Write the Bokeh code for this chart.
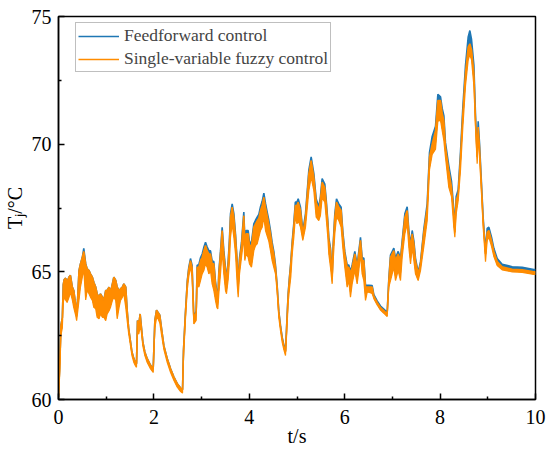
from bokeh.plotting import figure
from bokeh.models import Range1d, FixedTicker, Legend, LegendItem, ColumnDataSource
from bokeh.embed import file_html
from bokeh.resources import INLINE

# time (s)
t = [0.00, 0.03, 0.05, 0.08, 0.10, 0.12, 0.15, 0.18, 0.22, 0.25, 0.29, 0.32, 0.36, 0.38, 0.40,
     0.43, 0.46, 0.50, 0.53, 0.57, 0.60, 0.64, 0.67, 0.71, 0.74, 0.78, 0.81, 0.85, 0.88, 0.92,
     0.95, 0.99, 1.02, 1.06, 1.09, 1.13, 1.16, 1.20, 1.23, 1.27, 1.30, 1.34, 1.37, 1.41, 1.44,
     1.47, 1.51, 1.54, 1.58, 1.61, 1.635, 1.656, 1.684, 1.712, 1.740, 1.768, 1.81, 1.86, 1.93, 1.985,
     2.02, 2.055, 2.09, 2.124, 2.159, 2.21, 2.28, 2.35, 2.42, 2.49, 2.56, 2.60,
     2.62, 2.66, 2.70, 2.73, 2.767, 2.80, 2.837, 2.886, 2.907, 2.942, 2.977, 3.012, 3.047, 3.082,
     3.117, 3.152, 3.187, 3.221, 3.256, 3.291, 3.320, 3.340, 3.361, 3.396, 3.431, 3.466, 3.501, 3.522,
     3.557, 3.585, 3.606, 3.641, 3.676, 3.711, 3.746, 3.767, 3.795, 3.837, 3.885, 3.906, 3.934, 3.976,
     4.004, 4.046, 4.095, 4.130, 4.165, 4.200, 4.235, 4.270, 4.305, 4.340, 4.375, 4.409, 4.444, 4.479,
     4.514, 4.549, 4.584, 4.619, 4.654, 4.689, 4.724, 4.759, 4.794, 4.815, 4.840, 4.870, 4.900, 4.934,
     4.965, 5.000, 5.025, 5.073, 5.122, 5.178, 5.248, 5.297, 5.353, 5.402, 5.457, 5.490, 5.527, 5.583,
     5.611, 5.646, 5.667, 5.702, 5.737, 5.758, 5.793, 5.828, 5.877, 5.925, 5.960, 6.002, 6.051, 6.086,
     6.121, 6.156, 6.212, 6.261, 6.296, 6.331, 6.366, 6.401, 6.436, 6.471, 6.506, 6.576, 6.611, 6.681,
     6.751, 6.820, 6.890, 6.925, 6.960, 7.030, 7.065, 7.121, 7.170, 7.205, 7.261, 7.310, 7.345, 7.380,
     7.415, 7.450, 7.484, 7.540, 7.589, 7.659, 7.729, 7.778, 7.834, 7.904, 7.953, 8.009, 8.044, 8.079,
     8.113, 8.183, 8.239, 8.288, 8.309, 8.337, 8.379, 8.428, 8.477, 8.533, 8.589, 8.624, 8.659, 8.708,
     8.742, 8.777, 8.798, 8.826, 8.868, 8.903, 8.952, 8.987, 9.022, 9.078, 9.127, 9.197, 9.301, 9.511,
     9.721, 9.965, 10.000]

# single-variable fuzzy control: lower / upper edge of the noisy trace (degC)
fuzzy_lo = [60.00, 61.20, 62.50, 62.80, 63.80, 64.00, 63.90, 63.80, 64.00, 64.20, 63.90, 63.60, 63.30, 63.09, 63.40,
            63.90, 64.40, 64.80, 65.10, 63.90, 64.27, 64.14, 64.01, 63.88, 63.61, 63.55, 63.22, 63.16, 63.35, 63.22,
            63.22, 63.09, 63.35, 63.48, 63.61, 63.88, 64.01, 63.88, 63.16, 63.61, 63.88, 64.01, 64.14, 63.61, 63.09,
            62.60, 62.10, 61.72, 61.45, 61.33, 61.26, 62.60, 62.57, 62.90, 62.60, 62.10, 61.72, 61.45, 61.20, 61.06,
            62.80, 63.20, 63.15, 63.00, 62.55, 61.95, 61.45, 61.06, 60.74, 60.48, 60.31, 60.25,
            61.60, 63.10, 64.30, 64.80, 65.20, 64.80, 62.96, 63.10, 64.53, 64.40, 64.66, 64.92, 65.05, 65.31,
            65.18, 64.92, 65.05, 64.53, 64.27, 63.88, 63.61, 63.55, 64.14, 64.92, 65.83, 64.92, 64.27, 64.14,
            64.70, 65.44, 66.36, 66.88, 66.36, 65.70, 64.53, 64.01, 64.92, 65.57, 66.36, 65.44, 65.70, 65.57,
            65.31, 65.18, 65.83, 66.03, 66.10, 66.36, 66.62, 66.75, 67.14, 66.62, 66.40, 66.20, 65.83, 65.44,
            65.18, 64.92, 64.20, 63.20, 62.70, 62.25, 61.95, 61.72, 62.96, 63.80, 64.30, 64.80, 65.70, 66.36,
            67.14, 66.88, 67.01, 66.75, 66.23, 66.75, 68.18, 68.71, 68.18, 67.14, 67.01, 67.20, 67.90, 67.73,
            67.14, 66.36, 65.70, 65.18, 64.53, 65.44, 66.49, 67.14, 67.01, 66.75, 65.96, 65.18, 64.40, 64.66,
            64.01, 64.53, 65.05, 64.53, 65.05, 65.70, 64.92, 64.66, 63.88, 64.20, 64.20, 64.15, 63.95, 63.70,
            63.50, 63.38, 63.25, 64.40, 64.66, 65.18, 64.66, 65.05, 64.66, 65.57, 66.49, 66.88, 65.96, 65.31,
            65.96, 65.44, 64.92, 64.66, 65.05, 66.00, 67.00, 69.00, 69.60, 69.80, 70.90, 70.93, 70.53, 70.14,
            69.49, 68.31, 67.95, 66.75, 66.36, 67.27, 67.79, 69.00, 70.67, 72.30, 73.30, 73.50, 73.30, 72.30,
            70.67, 69.23, 70.40, 69.49, 68.05, 66.75, 65.40, 66.23, 66.36, 66.00, 65.60, 65.25, 65.08, 65.00,
            64.98, 64.90, 64.90]

fuzzy_hi = [60.10, 61.60, 62.90, 63.20, 64.50, 64.70, 64.75, 64.60, 64.80, 64.86, 64.40, 64.27, 63.70, 63.30, 63.90,
            65.05, 65.31, 65.57, 65.80, 65.30, 65.12, 65.05, 64.92, 64.79, 64.59, 64.40, 64.14, 64.01, 64.14, 64.01,
            63.88, 64.27, 64.27, 64.40, 64.20, 64.53, 64.79, 64.66, 64.40, 64.27, 64.33, 64.40, 64.53, 64.40, 63.48,
            62.80, 62.26, 61.86, 61.60, 61.47, 61.40, 63.09, 62.95, 63.35, 62.80, 62.26, 61.86, 61.60, 61.34, 61.20,
            63.09, 63.50, 63.40, 63.30, 62.80, 62.10, 61.60, 61.20, 60.88, 60.62, 60.45, 60.38,
            61.90, 63.35, 64.60, 65.10, 65.44, 65.18, 63.20, 63.40, 65.18, 65.18, 65.44, 65.57, 65.83, 66.03,
            65.83, 65.70, 65.70, 65.31, 65.31, 64.53, 64.14, 63.80, 64.92, 65.70, 66.62, 65.70, 65.05, 64.60,
            65.31, 66.20, 67.14, 67.53, 67.14, 66.36, 65.31, 64.40, 65.44, 66.03, 67.20, 66.20, 66.49, 66.49,
            66.03, 66.03, 66.75, 66.88, 67.00, 67.10, 67.40, 67.60, 67.92, 67.53, 67.20, 66.88, 66.49, 66.03,
            65.70, 65.18, 64.40, 63.40, 62.85, 62.40, 62.10, 61.86, 63.30, 64.10, 64.70, 65.30, 66.10, 66.80,
            67.60, 67.60, 67.73, 67.40, 66.49, 67.14, 68.84, 69.36, 68.71, 67.73, 67.40, 67.80, 68.51, 68.30,
            67.73, 66.88, 66.23, 65.83, 64.80, 65.96, 67.14, 67.73, 67.53, 67.40, 66.49, 65.70, 65.18, 65.18,
            64.92, 65.18, 65.70, 65.18, 65.70, 66.23, 65.44, 65.44, 64.40, 64.40, 64.40, 64.40, 64.05, 63.80,
            63.60, 63.48, 63.35, 64.66, 65.57, 65.83, 65.44, 65.70, 65.44, 66.10, 67.14, 67.40, 66.49, 65.96,
            66.49, 66.10, 65.44, 64.92, 65.31, 66.55, 67.50, 69.49, 70.00, 70.53, 71.71, 71.71, 71.20, 70.93,
            69.88, 68.95, 68.31, 67.27, 66.55, 67.79, 68.05, 69.49, 71.20, 72.80, 73.80, 73.93, 73.70, 72.80,
            70.93, 69.50, 70.67, 69.88, 68.31, 67.00, 65.70, 66.55, 66.62, 66.23, 65.80, 65.40, 65.20, 65.10,
            65.08, 65.00, 65.00]

# feedforward control: upper edge of its trace (degC)
feed_hi = [60.10, 61.60, 62.90, 63.20, 64.50, 64.70, 64.75, 64.60, 64.80, 64.86, 64.40, 64.27, 63.70, 63.30, 63.90,
           65.05, 65.31, 65.57, 65.92, 65.32, 65.12, 65.05, 64.92, 64.79, 64.59, 64.40, 64.14, 64.01, 64.14, 64.01,
           63.88, 64.27, 64.27, 64.40, 64.20, 64.53, 64.79, 64.66, 64.40, 64.27, 64.33, 64.40, 64.53, 64.40, 63.48,
           62.80, 62.26, 61.86, 61.60, 61.47, 61.40, 63.09, 62.95, 63.35, 62.80, 62.26, 61.86, 61.60, 61.34, 61.20,
           63.09, 63.50, 63.40, 63.30, 62.80, 62.10, 61.60, 61.20, 60.88, 60.62, 60.45, 60.38,
           61.90, 63.38, 64.65, 65.16, 65.52, 65.26, 63.25, 63.45, 65.26, 65.28, 65.55, 65.70, 65.96, 66.16,
           65.97, 65.83, 65.82, 65.42, 65.40, 64.62, 64.22, 63.86, 65.00, 65.80, 66.74, 65.82, 65.15, 64.68,
           65.40, 66.32, 67.28, 67.66, 67.28, 66.48, 65.40, 64.46, 65.54, 66.15, 67.34, 66.32, 66.62, 66.62,
           66.16, 66.16, 66.88, 67.02, 67.14, 67.25, 67.55, 67.76, 68.08, 67.68, 67.34, 67.02, 66.62, 66.15,
           65.80, 65.26, 64.46, 63.45, 62.90, 62.44, 62.14, 61.90, 63.34, 64.15, 64.76, 65.38, 66.20, 66.92,
           67.73, 67.73, 67.86, 67.53, 66.60, 67.27, 68.98, 69.50, 68.85, 67.86, 67.53, 67.93, 68.65, 68.44,
           67.86, 67.00, 66.34, 65.93, 64.86, 66.06, 67.27, 67.86, 67.66, 67.53, 66.60, 65.80, 65.27, 65.27,
           65.00, 65.27, 65.80, 65.27, 65.80, 66.35, 65.54, 65.54, 64.47, 64.47, 64.47, 64.46, 64.11, 63.86,
           63.66, 63.54, 63.41, 64.73, 65.66, 65.93, 65.53, 65.80, 65.53, 66.21, 67.27, 67.55, 66.61, 66.06,
           66.62, 66.21, 65.53, 64.99, 65.39, 66.67, 67.66, 69.68, 70.30, 70.70, 71.95, 71.85, 71.40, 71.12,
           70.05, 69.15, 68.55, 67.42, 66.65, 67.95, 68.22, 69.70, 71.45, 73.10, 74.20, 74.45, 74.10, 73.10,
           71.15, 69.65, 70.90, 70.05, 68.45, 67.12, 65.80, 66.70, 66.75, 66.36, 65.92, 65.52, 65.30, 65.20,
           65.18, 65.09, 65.09]

x_ticks = [0, 2, 4, 6, 8, 10]
x_minor = [1, 3, 5, 7, 9]
y_ticks = [60, 65, 70, 75]
y_minor = [62.5, 67.5, 72.5]
series_names = ["Feedforward control", "Single-variable fuzzy control"]
x_title = "t/s"
y_title = "T\u2c7c/°C"

BLUE = "#1f77b4"
ORANGE = "#ff8c00"
FONT = "Liberation Serif"

src = ColumnDataSource(dict(t=t, flo=fuzzy_lo, fhi=fuzzy_hi, bhi=feed_hi))

p = figure(width=550, height=452, output_backend="svg", toolbar_location=None,
           x_range=Range1d(0, 10), y_range=Range1d(60, 75),
           min_border_left=58, min_border_right=15, min_border_top=16, min_border_bottom=53)
p.grid.visible = False
p.outline_line_color = "black"
p.outline_line_width = 1.5
p.background_fill_color = "white"
p.border_fill_color = "white"

p.varea(x="t", y1="flo", y2="bhi", source=src, fill_color=BLUE, fill_alpha=1)
blue_line = p.line("t", "bhi", source=src, line_color=BLUE, line_width=1.6)
p.varea(x="t", y1="flo", y2="fhi", source=src, fill_color=ORANGE, fill_alpha=1)
orange_line = p.line("t", "fhi", source=src, line_color=ORANGE, line_width=1.6)
p.line("t", "flo", source=src, line_color=ORANGE, line_width=1.2)

p.xaxis.ticker = FixedTicker(ticks=x_ticks, minor_ticks=x_minor)
p.yaxis.ticker = FixedTicker(ticks=y_ticks, minor_ticks=y_minor)
for ax in (p.xaxis, p.yaxis):
    ax.axis_line_width = 1.5
    ax.major_tick_line_width = 1.5
    ax.minor_tick_line_width = 1.5
    ax.major_tick_in = 6
    ax.major_tick_out = 0
    ax.minor_tick_in = 3
    ax.minor_tick_out = 0
    ax.major_label_text_font = FONT
    ax.major_label_text_font_size = "20px"
    ax.major_label_text_color = "black"
    ax.axis_label_text_font = FONT
    ax.axis_label_text_font_size = "20px"
    ax.axis_label_text_font_style = "normal"
    ax.axis_label_text_color = "black"
p.xaxis.major_label_standoff = 10
p.yaxis.major_label_standoff = 7
p.xaxis.axis_label = x_title
p.xaxis.axis_label_standoff = -2
p.yaxis.axis_label = y_title
p.yaxis.axis_label_standoff = 3

legend = Legend(items=[LegendItem(label=series_names[0], renderers=[blue_line]),
                       LegendItem(label=series_names[1], renderers=[orange_line])],
                location=(17, 327), margin=0, padding=2, spacing=2,
                glyph_width=41, glyph_height=18, label_height=18, label_standoff=5,
                label_text_font=FONT, label_text_font_size="17.5px",
                border_line_color="#808080", border_line_width=1, background_fill_alpha=1)
p.add_layout(legend)

open("out.html", "w").write(file_html(p, INLINE))
